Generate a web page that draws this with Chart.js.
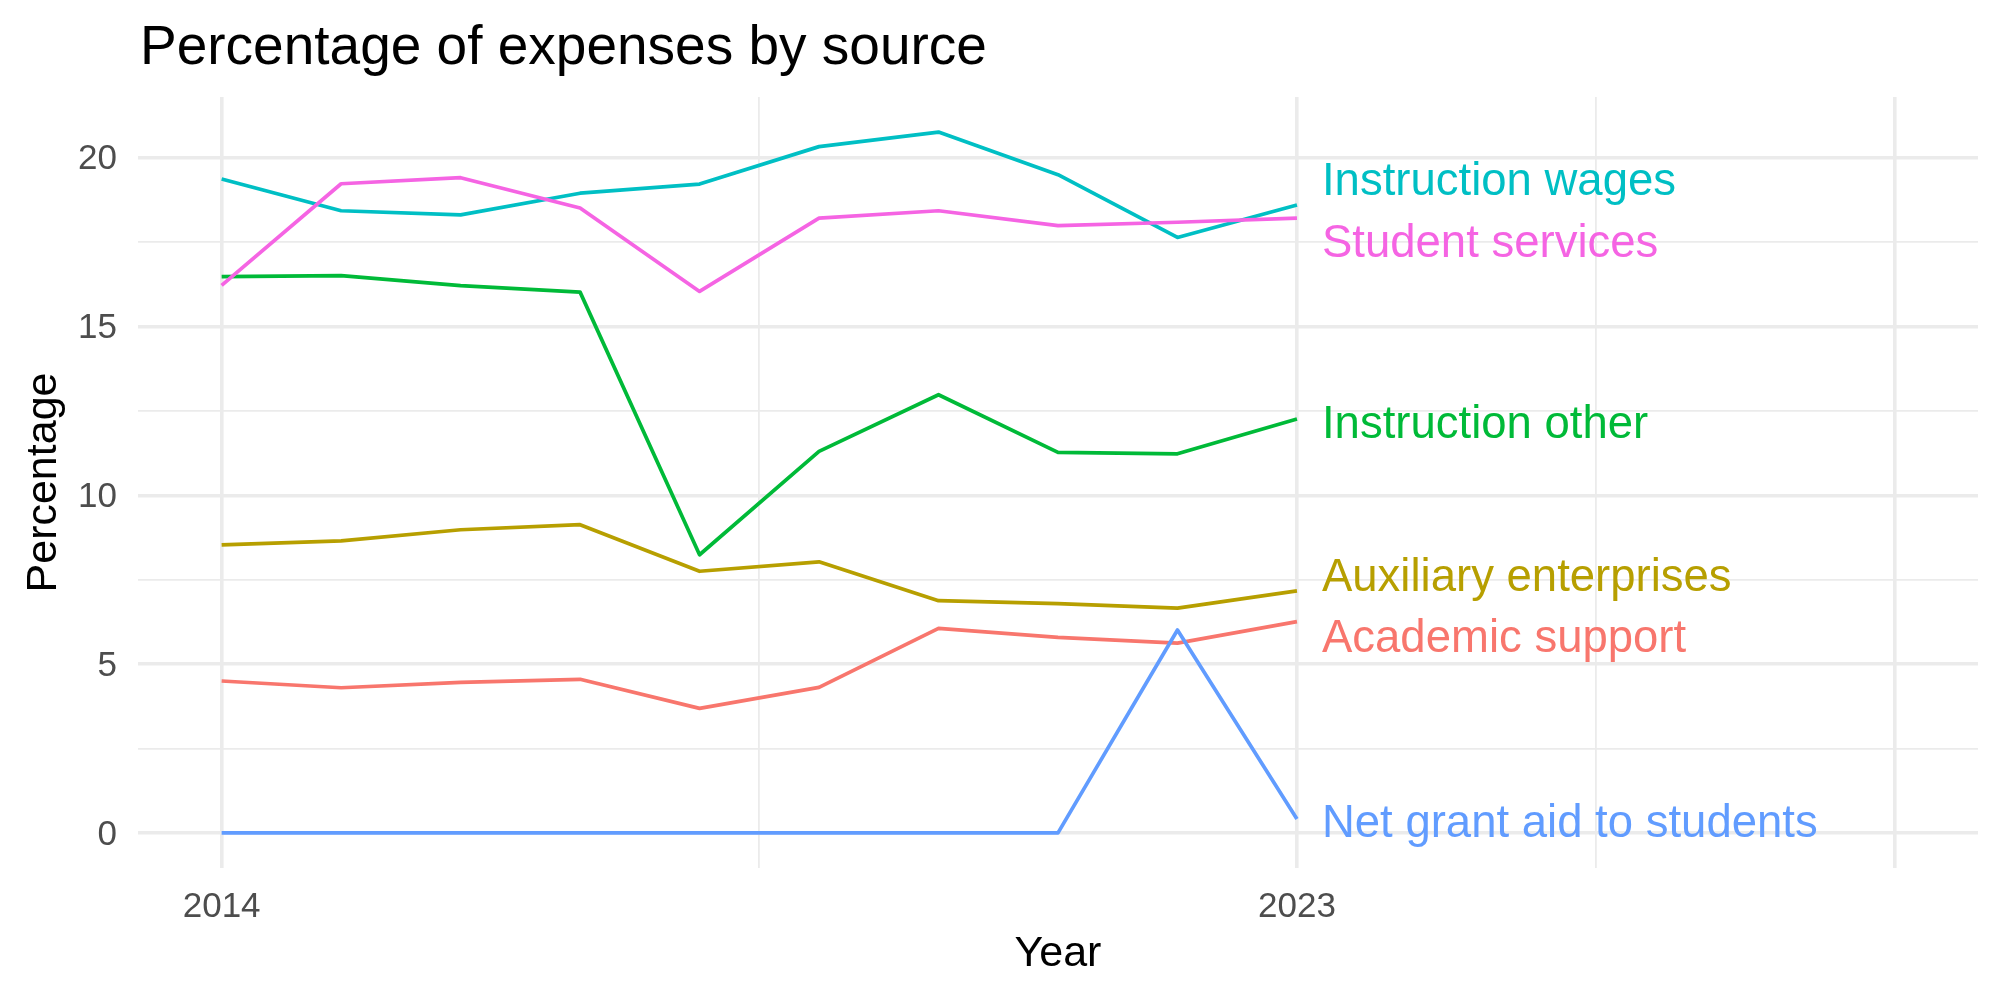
<!DOCTYPE html>
<html>
<head>
<meta charset="utf-8">
<script src="https://cdn.jsdelivr.net/npm/chart.js@4.4.1/dist/chart.umd.min.js"></script>
<style>
html,body{margin:0;padding:0;background:#ffffff;}
#wrap{width:2000px;height:1000px;}
</style>
</head>
<body>
<div id="wrap"><canvas id="c" width="2000" height="1000"></canvas></div>
<script>
// ---- data ----
const years = [2014, 2015, 2016, 2017, 2018, 2019, 2020, 2021, 2022, 2023];
const academicSupport      = [4.50, 4.30, 4.46, 4.55, 3.69, 4.31, 6.06, 5.79, 5.62, 6.26];
const auxiliaryEnterprises = [8.53, 8.65, 8.98, 9.13, 7.75, 8.03, 6.88, 6.79, 6.66, 7.17];
const instructionOther     = [16.48, 16.51, 16.21, 16.02, 8.24, 11.30, 12.98, 11.27, 11.23, 12.26];
const instructionWages     = [19.37, 18.43, 18.31, 18.95, 19.22, 20.33, 20.76, 19.50, 17.64, 18.60];
const netGrantAid          = [0, 0, 0, 0, 0, 0, 0, 0, 6.01, 0.41];
const studentServices      = [16.22, 19.23, 19.41, 18.51, 16.04, 18.21, 18.43, 17.99, 18.09, 18.21];

const seriesNames  = ["Academic support", "Auxiliary enterprises", "Instruction other", "Instruction wages", "Net grant aid to students", "Student services"];
const seriesValues = [academicSupport, auxiliaryEnterprises, instructionOther, instructionWages, netGrantAid, studentServices];
const seriesColors = ["#F8766D", "#B79F00", "#00BA38", "#00BFC4", "#619CFF", "#F564E3"];
// vertical value at which each end label is centred (repelled)
const labelValues  = [5.86, 7.67, 12.2, 19.38, 0.38, 17.54];

const xTicks = [2014, 2018.5, 2023, 2025.5, 2028];
const xMajor = [2014, 2023, 2028];
const xLabelled = [2014, 2023];
const yTicks = [0, 2.5, 5, 7.5, 10, 12.5, 15, 17.5, 20];
const yLabelled = [0, 5, 10, 15, 20];

const titleText = "Percentage of expenses by source";
const xTitle = "Year";
const yTitle = "Percentage";

const FONT = "'Liberation Sans', Arial, Helvetica, sans-serif";
const GRID = "#EBEBEB";

const datasets = seriesNames.map((name, i) => ({
  label: name,
  data: years.map((y, j) => ({ x: y, y: seriesValues[i][j] })),
  borderColor: seriesColors[i],
  backgroundColor: seriesColors[i],
  borderWidth: 3.7,
  pointRadius: 0,
  pointHoverRadius: 0,
  tension: 0,
  fill: false,
  borderJoinStyle: 'round',
  borderCapStyle: 'butt',
  order: seriesNames.length - 1 - i
}));

const textPlugin = {
  id: 'texts',
  afterDraw(chart) {
    const ctx = chart.ctx;
    const ca = chart.chartArea;
    const xs = chart.scales.x, ys = chart.scales.y;
    ctx.save();
    // title
    ctx.fillStyle = '#000000';
    ctx.font = `55px ${FONT}`;
    ctx.textAlign = 'left';
    ctx.textBaseline = 'alphabetic';
    ctx.fillText(titleText, ca.left + 2, 64);
    // x title
    ctx.font = `43px ${FONT}`;
    ctx.textAlign = 'center';
    ctx.fillText(xTitle, (ca.left + ca.right) / 2, 966);
    // y title
    ctx.save();
    ctx.translate(56, (ca.top + ca.bottom) / 2);
    ctx.rotate(-Math.PI / 2);
    ctx.textAlign = 'center';
    ctx.textBaseline = 'alphabetic';
    ctx.fillText(yTitle, 0, 0);
    ctx.restore();
    // end labels
    ctx.font = `45.5px ${FONT}`;
    ctx.textAlign = 'left';
    ctx.textBaseline = 'middle';
    const lastX = xs.getPixelForValue(years[years.length - 1]);
    seriesNames.forEach((name, i) => {
      ctx.fillStyle = seriesColors[i];
      ctx.fillText(name, lastX + 25, ys.getPixelForValue(labelValues[i]) + 4);
    });
    ctx.restore();
  }
};

new Chart(document.getElementById('c'), {
  type: 'line',
  data: { datasets },
  options: {
    responsive: false,
    animation: false,
    devicePixelRatio: 1,
    layout: { padding: { top: 97, right: 22, left: 0, bottom: 0 } },
    plugins: { legend: { display: false }, title: { display: false }, tooltip: { enabled: false } },
    scales: {
      x: {
        type: 'linear',
        min: 2013.3,
        max: 2028.7,
        afterBuildTicks: (s) => { s.ticks = xTicks.map(v => ({ value: v })); },
        afterFit: (s) => { s.height = 132; },
        border: { display: false },
        grid: {
          color: GRID,
          lineWidth: (c) => (c.tick && xMajor.includes(c.tick.value)) ? 3.6 : 1.8,
          drawTicks: false
        },
        ticks: {
          autoSkip: false,
          maxRotation: 0,
          padding: 18,
          color: '#4D4D4D',
          font: { family: FONT, size: 35 },
          callback: (v) => xLabelled.includes(v) ? String(v) : ''
        }
      },
      y: {
        type: 'linear',
        min: -1.04,
        max: 21.8,
        afterBuildTicks: (s) => { s.ticks = yTicks.map(v => ({ value: v })); },
        afterFit: (s) => { s.width = 138; },
        border: { display: false },
        grid: {
          color: GRID,
          lineWidth: (c) => (c.tick && yLabelled.includes(c.tick.value)) ? 3.6 : 1.8,
          drawTicks: false
        },
        ticks: {
          autoSkip: false,
          padding: 21,
          labelOffset: 2,
          color: '#4D4D4D',
          font: { family: FONT, size: 35 },
          callback: (v) => yLabelled.includes(v) ? String(v) : ''
        }
      }
    }
  },
  plugins: [textPlugin]
});
</script>
</body>
</html>
